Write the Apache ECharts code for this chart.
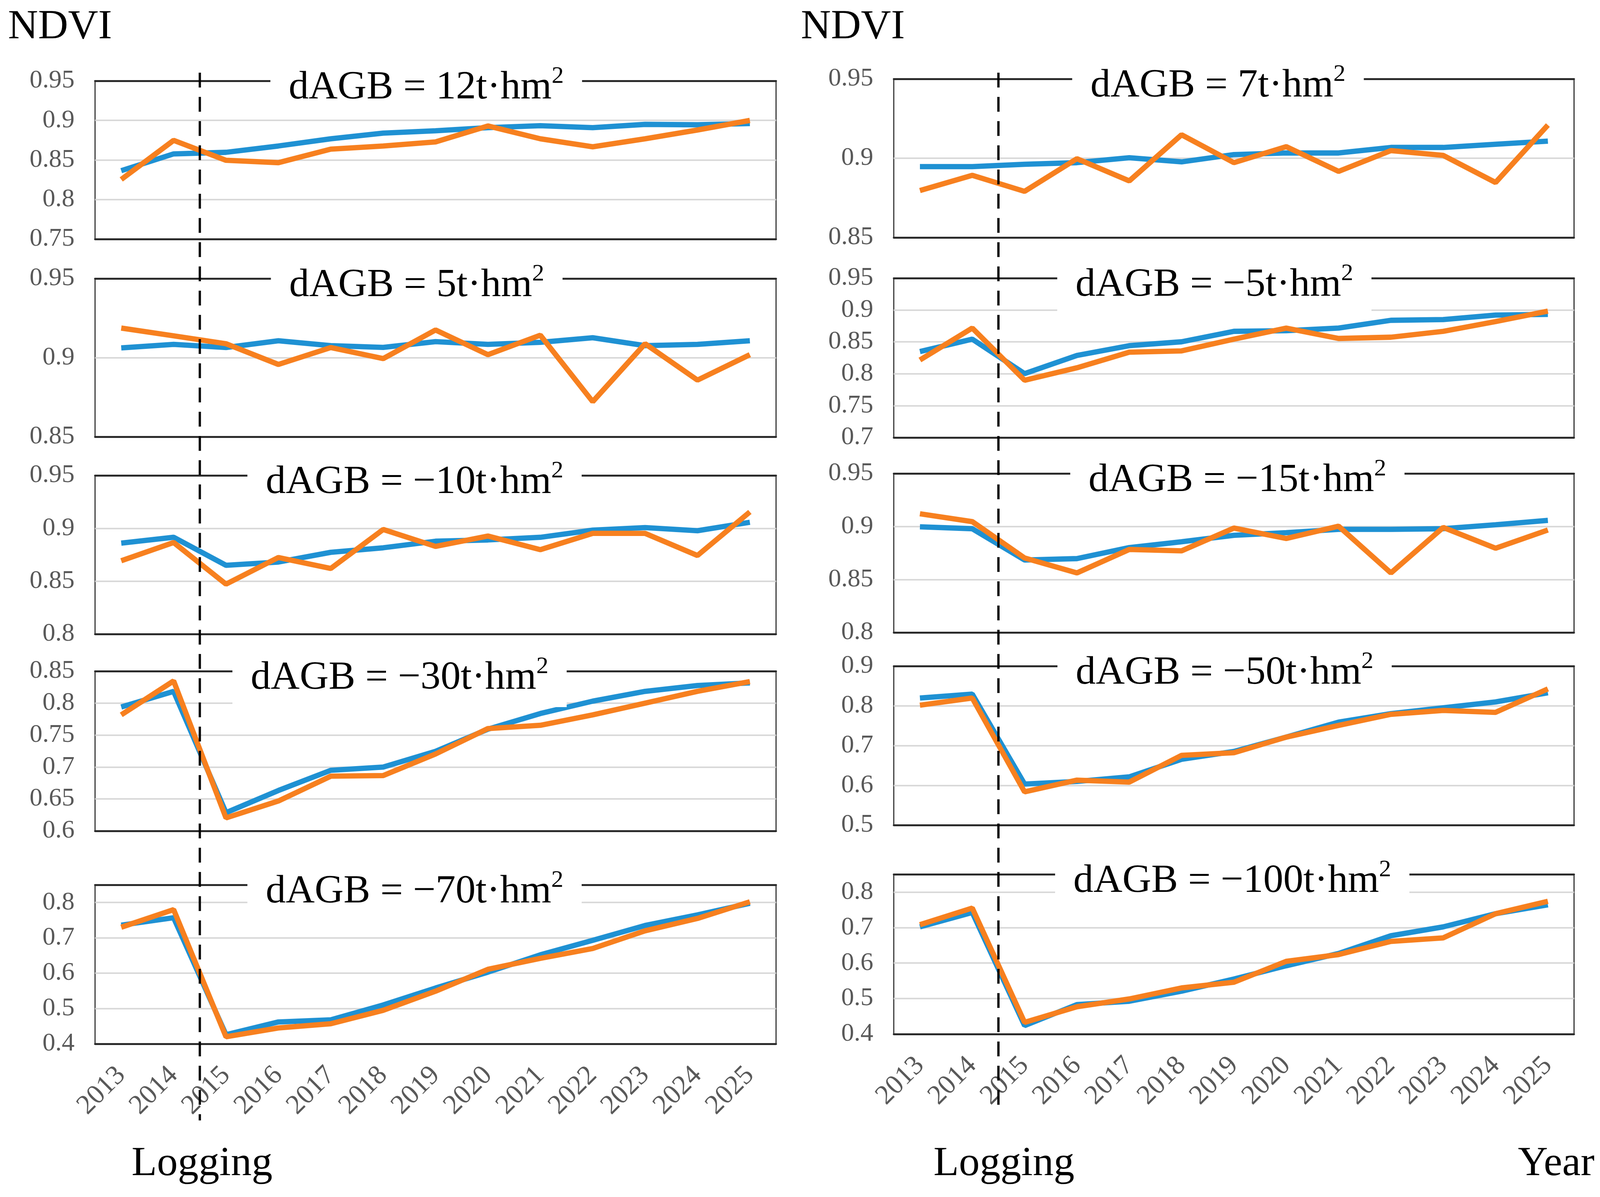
<!DOCTYPE html>
<html><head><meta charset="utf-8">
<script src="https://cdn.jsdelivr.net/npm/echarts@6/dist/echarts.min.js"></script>
<style>html,body{margin:0;padding:0;background:#fff;overflow:hidden}#c{width:4377px;height:3064px}</style>
</head><body><div id="c"></div>
<script>
// ---------- data ----------
const years = ['2013','2014','2015','2016','2017','2018','2019','2020','2021','2022','2023','2024','2025'];
const dAGBLabels = ['12', '7', '5', '\u22125', '\u221210', '\u221215', '\u221230', '\u221250', '\u221270', '\u2212100'];

const blue12   = [0.8365,0.8577,0.8597,0.8677,0.8768,0.8839,0.8869,0.8909,0.8933,0.8909,0.8950,0.8945,0.8960];
const orange12 = [0.8254,0.8748,0.8496,0.8466,0.8637,0.8677,0.8728,0.8930,0.8768,0.8667,0.8768,0.8879,0.9000];
const blue7    = [0.8947,0.8947,0.8962,0.8972,0.9003,0.8977,0.9023,0.9033,0.9033,0.9068,0.9068,0.9088,0.9108];
const orange7  = [0.8796,0.8892,0.8791,0.8997,0.8857,0.9148,0.8972,0.9073,0.8917,0.9048,0.9018,0.8847,0.9209];
const blue5    = [0.9062,0.9084,0.9064,0.9107,0.9076,0.9065,0.9101,0.9084,0.9097,0.9126,0.9076,0.9084,0.9107];
const orange5  = [0.9187,0.9138,0.9088,0.8957,0.9064,0.8994,0.9175,0.9019,0.9142,0.8722,0.9088,0.8858,0.9019];
const blueM5   = [0.8349,0.8543,0.8002,0.8288,0.8441,0.8502,0.8666,0.8676,0.8717,0.8839,0.8850,0.8921,0.8932];
const orangeM5 = [0.8216,0.8717,0.7899,0.8094,0.8339,0.8359,0.8543,0.8717,0.8554,0.8574,0.8666,0.8819,0.8983];
const blueM10  = [0.8860,0.8915,0.8650,0.8681,0.8773,0.8816,0.8878,0.8890,0.8915,0.8983,0.9007,0.8977,0.9057];
const orangeM10= [0.8693,0.8866,0.8472,0.8724,0.8620,0.8989,0.8829,0.8927,0.8798,0.8952,0.8952,0.8743,0.9155];
const blueM15  = [0.8997,0.8979,0.8684,0.8697,0.8801,0.8856,0.8917,0.8942,0.8973,0.8973,0.8979,0.9016,0.9058];
const orangeM15= [0.9120,0.9046,0.8703,0.8562,0.8783,0.8770,0.8985,0.8887,0.9003,0.8562,0.8991,0.8795,0.8967];
const blueM30  = [0.7939,0.8184,0.6286,0.6633,0.6949,0.7000,0.7245,0.7592,0.7837,0.8031,0.8184,0.8276,0.8316];
const orangeM30= [0.7816,0.8347,0.6204,0.6469,0.6857,0.6867,0.7204,0.7602,0.7653,0.7816,0.8000,0.8184,0.8337];
const blueM50  = [0.8197,0.8295,0.6033,0.6098,0.6213,0.6656,0.6852,0.7213,0.7590,0.7803,0.7951,0.8098,0.8328];
const orangeM50= [0.8016,0.8197,0.5836,0.6131,0.6082,0.6754,0.6820,0.7213,0.7508,0.7787,0.7885,0.7836,0.8426];
const blueM70  = [0.736,0.757,0.426,0.462,0.468,0.510,0.558,0.603,0.652,0.693,0.735,0.765,0.798];
const orangeM70= [0.730,0.780,0.420,0.445,0.457,0.495,0.549,0.611,0.642,0.670,0.720,0.755,0.802];
const blueM100 = [0.702,0.7425,0.424,0.483,0.4925,0.521,0.555,0.5925,0.627,0.677,0.702,0.739,0.764];
const orangeM100=[0.708,0.755,0.433,0.477,0.499,0.530,0.546,0.605,0.624,0.661,0.671,0.739,0.774];

const blueSeries   = [blue12, blue7, blue5, blueM5, blueM10, blueM15, blueM30, blueM50, blueM70, blueM100];
const orangeSeries = [orange12, orange7, orange5, orangeM5, orangeM10, orangeM15, orangeM30, orangeM50, orangeM70, orangeM100];

// y axis ranges (tick labels)
const yMin  = [0.75, 0.85, 0.85, 0.7, 0.8, 0.8, 0.6, 0.5, 0.4, 0.4];
const yMax  = [0.95, 0.95, 0.95, 0.95, 0.95, 0.95, 0.85, 0.9, 0.85, 0.85];
const yStep = [0.05, 0.05, 0.05, 0.05, 0.05, 0.05, 0.05, 0.1, 0.1, 0.1];
const hideMaxLabel = [false,false,false,false,false,false,false,false,true,true];

// ---------- layout (design px for a 4377 x 3064 page) ----------
const colLeft  = [260, 2445];
const colWidth = [1863, 1861];
const gTop = [207, 202, 713, 712, 1217, 1212, 1718, 1705, 2265, 2238];
const gH   = [405, 406, 405, 408, 406, 407, 409, 407, 407, 409];
const titleX = [1166, 3332, 1140, 3322, 1134, 3385, 1093, 3350, 1134, 3371];

// fit the design onto the real viewport
const W0 = 4377, H0 = 3064;
const vw = window.innerWidth || W0, vh = window.innerHeight || H0;
const sx = vw / W0, sy = vh / H0, sf = (sx + sy) / 2;
const X = v => v * sx, Y = v => v * sy, F = v => v * sf;
const el = document.getElementById('c');
el.style.width = vw + 'px';
el.style.height = vh + 'px';

const BLUE = '#1f91d3', ORANGE = '#f7801f', FONT = 'Liberation Serif';

const chart = echarts.init(el, null, {renderer: 'canvas'});
const grids = [], xAxes = [], yAxes = [], series = [];
for (let i = 0; i < 10; i++) {
  const col = i % 2;
  const bottomRow = i >= 8;
  grids.push({left: X(colLeft[col]), width: X(colWidth[col]), top: Y(gTop[i]), height: Y(gH[i]),
    show: true, borderColor: '#333', borderWidth: F(3), containLabel: false});
  xAxes.push({gridIndex: i, type: 'category', data: years, boundaryGap: true, position: 'bottom',
    axisLine: {lineStyle: {color: '#2b2b2b', width: F(5)}},
    axisTick: {inside: true, length: Y(22), lineStyle: {color: '#2b2b2b', width: F(3)}},
    axisLabel: {show: bottomRow, interval: 0, rotate: 45, margin: Y(70), fontSize: F(73),
      color: '#595959', fontFamily: FONT},
    splitLine: {show: false}});
  xAxes.push({gridIndex: i, type: 'category', data: years, position: 'top',
    axisLine: {lineStyle: {color: '#2b2b2b', width: F(5)}},
    axisTick: {show: false}, axisLabel: {show: false}, splitLine: {show: false}});
  yAxes.push({gridIndex: i, type: 'value', min: yMin[i], max: yMax[i], interval: yStep[i],
    axisLine: {show: false}, axisTick: {show: false},
    axisLabel: {fontSize: F(68), color: '#595959', fontFamily: FONT, margin: X(56),
      showMaxLabel: !hideMaxLabel[i]},
    splitLine: {lineStyle: {color: '#d9d9d9', width: F(4)}}});
  series.push({type: 'line', xAxisIndex: 2 * i, yAxisIndex: i, data: blueSeries[i],
    symbol: 'none', lineStyle: {color: BLUE, width: F(14)}, itemStyle: {color: BLUE}, z: 3, silent: true});
  series.push({type: 'line', xAxisIndex: 2 * i, yAxisIndex: i, data: orangeSeries[i],
    symbol: 'none', lineStyle: {color: ORANGE, width: F(14)}, itemStyle: {color: ORANGE}, z: 4, silent: true});
}

chart.setOption({animation: false, backgroundColor: '#fff', grid: grids, xAxis: xAxes, yAxis: yAxes, series: series});

// logging line position: boundary between 2014 and 2015 categories
function boundaryX(axisIdx) {
  const a = chart.convertToPixel({xAxisIndex: axisIdx}, '2014');
  const b = chart.convertToPixel({xAxisIndex: axisIdx}, '2015');
  return (a + b) / 2;
}
const xL = boundaryX(0), xR = boundaryX(2);

const graphics = [];
graphics.push({type: 'line', z: 80, silent: true, shape: {x1: xL, y1: Y(186), x2: xL, y2: Y(2868)},
  style: {stroke: '#000', lineWidth: F(6), lineDash: [Y(38), Y(24)]}});
graphics.push({type: 'line', z: 80, silent: true, shape: {x1: xR, y1: Y(186), x2: xR, y2: Y(2851)},
  style: {stroke: '#000', lineWidth: F(6), lineDash: [Y(38), Y(24)]}});

for (let i = 0; i < 10; i++) {
  graphics.push({type: 'text', z: 60, silent: true, x: X(titleX[i]), y: Y(gTop[i] - 46),
    style: {text: 'dAGB = ' + dAGBLabels[i] + 't\u00b7hm{sup|2}', fill: '#000',
      fontSize: F(106), fontFamily: FONT, lineHeight: Y(120), align: 'center', verticalAlign: 'top',
      backgroundColor: '#fff', padding: [Y(4), X(50), Y(14), X(50)],
      rich: {sup: {fontSize: F(64), fontFamily: FONT, lineHeight: Y(80), verticalAlign: 'top', fill: '#000'}}}});
}
const big = {fontSize: F(110), fontFamily: FONT, fill: '#000'};
graphics.push({type: 'text', silent: true, x: X(22), y: Y(70), style: Object.assign({text: 'NDVI', align: 'left', verticalAlign: 'middle'}, big)});
graphics.push({type: 'text', silent: true, x: X(2191), y: Y(70), style: Object.assign({text: 'NDVI', align: 'left', verticalAlign: 'middle'}, big)});
graphics.push({type: 'text', silent: true, x: xL + X(6), y: Y(2980), style: Object.assign({text: 'Logging', align: 'center', verticalAlign: 'middle'}, big)});
graphics.push({type: 'text', silent: true, x: xR + X(15), y: Y(2980), style: Object.assign({text: 'Logging', align: 'center', verticalAlign: 'middle'}, big)});
graphics.push({type: 'text', silent: true, x: X(4362), y: Y(2980), style: Object.assign({text: 'Year', align: 'right', verticalAlign: 'middle'}, big)});

chart.setOption({graphic: graphics});
</script></body></html>
